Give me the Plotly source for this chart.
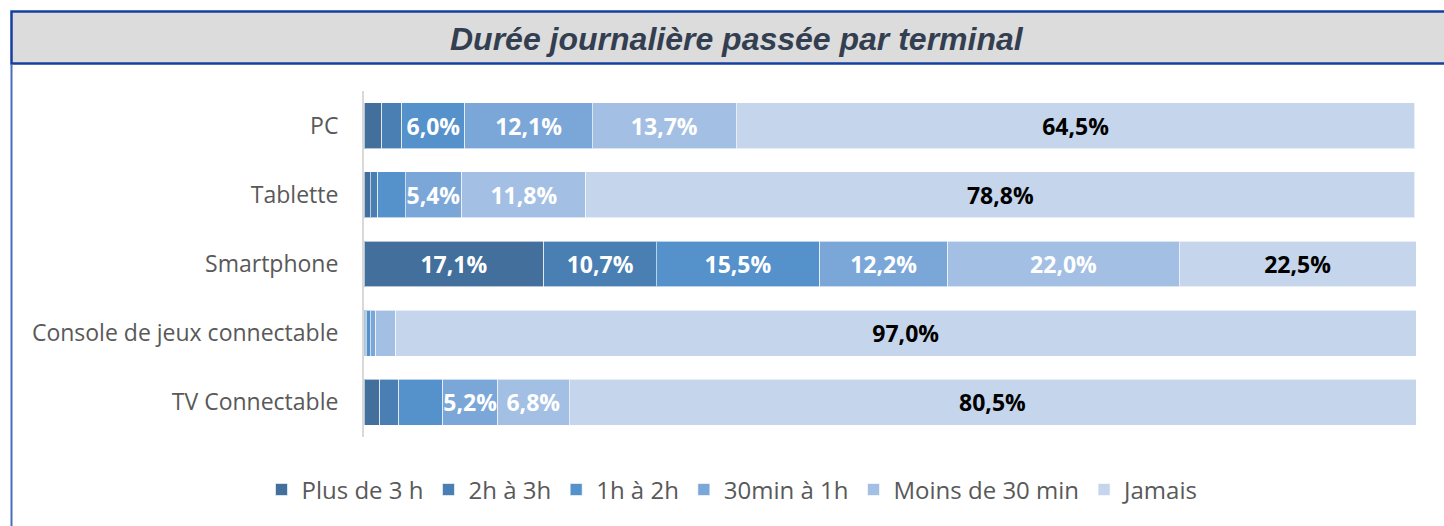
import plotly.graph_objects as go

categories = ["PC", "Tablette", "Smartphone", "Console de jeux connectable", "TV Connectable"]
series_names = ["Plus de 3 h", "2h à 3h", "1h à 2h", "30min à 1h", "Moins de 30 min", "Jamais"]
plus_3h = [1.7, 0.6, 17.1, 0.1, 1.5]
h2_3h = [1.9, 0.7, 10.7, 0.1, 1.8]
h1_2h = [6.0, 2.6, 15.5, 0.4, 4.2]
min30_1h = [12.1, 5.4, 12.2, 0.5, 5.2]
moins_30 = [13.7, 11.8, 22.0, 1.9, 6.8]
jamais = [64.5, 78.8, 22.5, 97.0, 80.5]
series_values = [plus_3h, h2_3h, h1_2h, min30_1h, moins_30, jamais]
title_text = "Durée journalière passée par terminal"

colors = ["#426F9B", "#4A7FB3", "#5591CA", "#7BA7D8", "#A3C0E4", "#C5D5EB"]
label_colors = ["white"] * 5 + ["black"]

W, H = 1444, 526
L, R, T, B = 364, 1416, 90.5, 437

def px2x(px):
    return (px - L) / (R - L)

def px2y(py):
    return (B - py) / (B - T)

def fmt(v):
    return (f"{v:.1f}%").replace(".", ",") if v >= 5 else ""

fig = go.Figure()
for name, vals, col, lc in zip(series_names, series_values, colors, label_colors):
    fig.add_trace(go.Bar(
        name=name, y=categories, x=vals, orientation="h",
        marker=dict(color=col, line=dict(color="rgba(255,255,255,0.6)", width=1)),
        text=[fmt(v) for v in vals], textposition="inside", insidetextanchor="middle",
        constraintext="none",
        textfont=dict(family="Open Sans", size=23, color=lc, weight="bold"),
        hoverinfo="skip",
    ))

fig.update_layout(
    barmode="stack", bargap=0.336,
    width=W, height=H,
    margin=dict(l=L, r=W - R, t=T, b=H - B, pad=0),
    paper_bgcolor="white", plot_bgcolor="white",
    xaxis=dict(range=[0, 100], visible=False, fixedrange=True),
    yaxis=dict(categoryorder="array", categoryarray=categories, autorange="reversed",
               showline=True, linecolor="#D9D9D9", linewidth=2, ticks="",
               ticklabelstandoff=19, showgrid=False, fixedrange=True,
               tickfont=dict(family="Open Sans", size=23, color="#595959")),
    legend=dict(orientation="h", x=px2x(733), xanchor="center", y=px2y(490), yanchor="middle",
                font=dict(family="Open Sans", size=24, color="#595959"),
                traceorder="normal", itemwidth=30, tracegroupgap=0),
    showlegend=True,
)

# title band
fig.add_shape(type="rect", xref="paper", yref="paper",
              x0=px2x(11.5), x1=px2x(1460), y0=px2y(63), y1=px2y(11),
              fillcolor="#DCDCDC", line=dict(color="#1540A0", width=2.5), layer="below")
fig.add_shape(type="line", xref="paper", yref="paper",
              x0=px2x(11.5), x1=px2x(11.5), y0=px2y(64), y1=px2y(530),
              line=dict(color="#4A6CC0", width=2))
fig.add_annotation(xref="paper", yref="paper", x=px2x(737), y=px2y(38),
                   text=f"<b><i>{title_text}</i></b>", showarrow=False,
                   xanchor="center", yanchor="middle",
                   font=dict(family="Liberation Sans", size=32, color="#333F50"))

fig.write_html("out.html", config={"displayModeBar": False},
               post_script="document.body.style.margin='0';document.body.style.overflow='hidden';")
